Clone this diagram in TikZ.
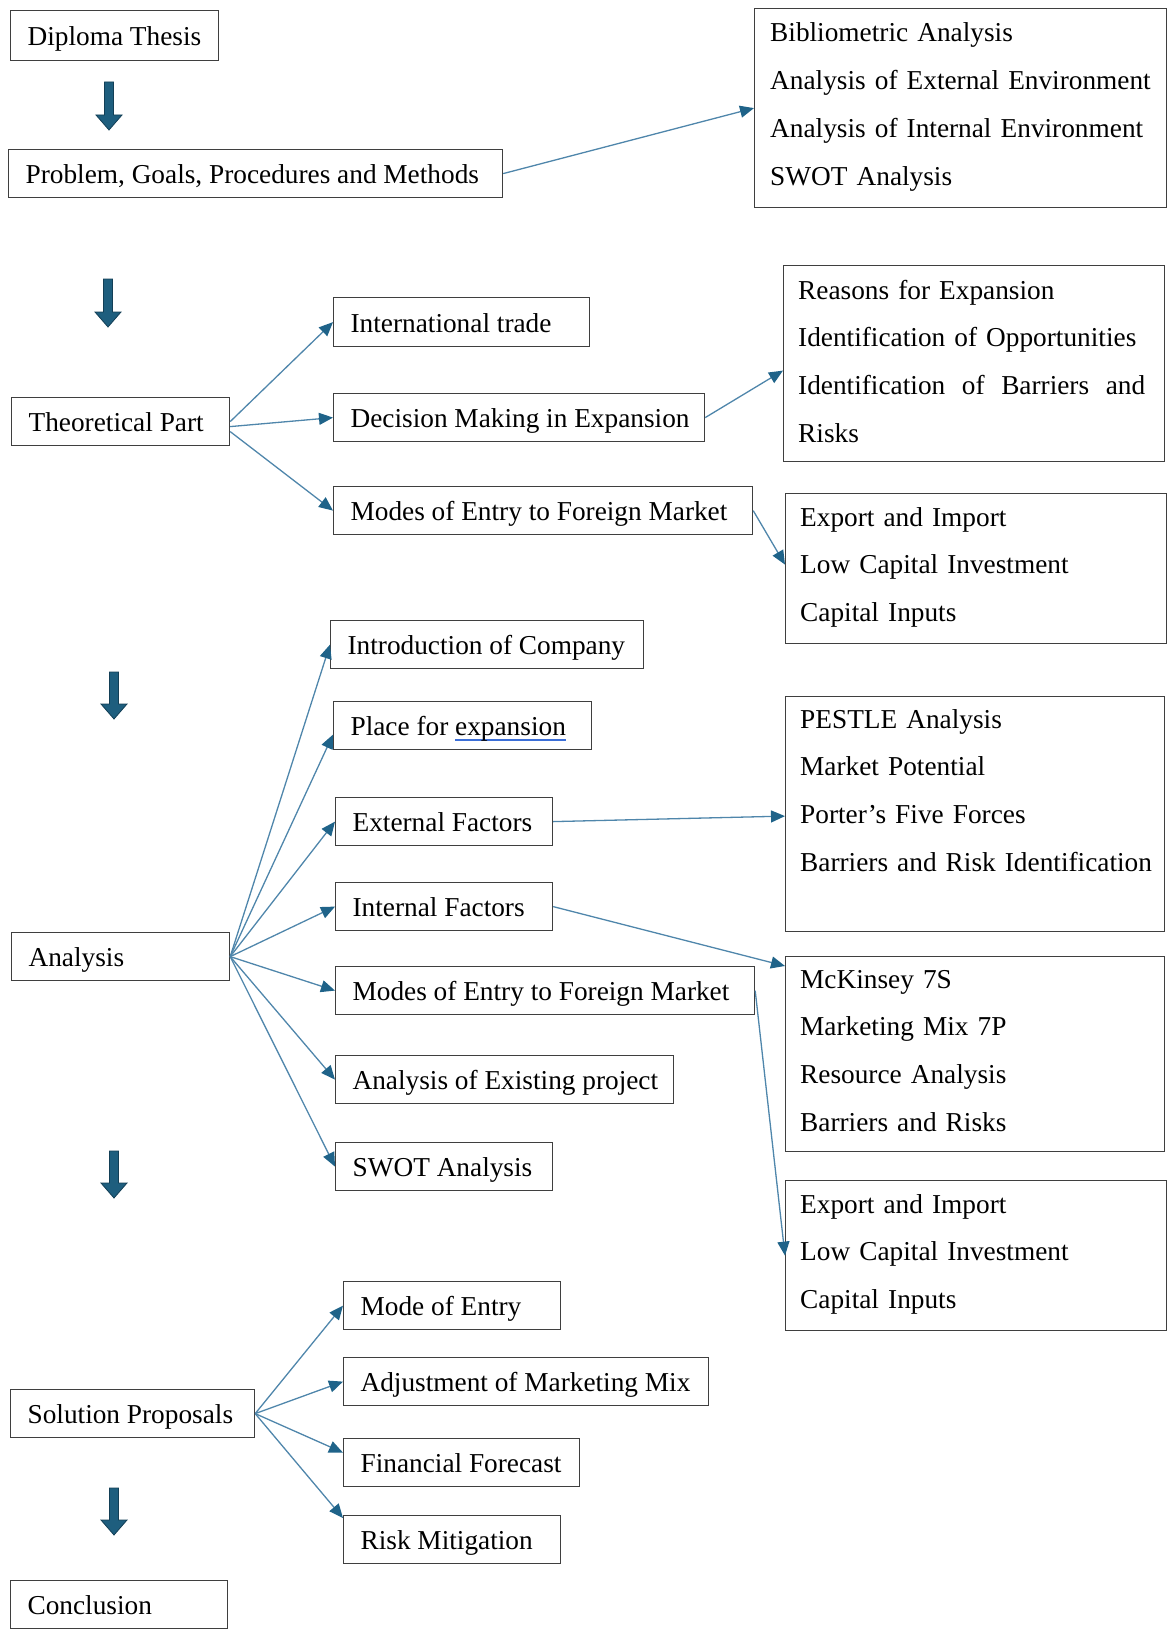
\documentclass[tikz,border=0pt]{standalone}
\usepackage{fontspec}
\setmainfont{Liberation Serif}
\usetikzlibrary{arrows.meta}
\definecolor{boxgray}{HTML}{3F3F3F}
\definecolor{linkblue}{HTML}{4F86AB}
\definecolor{tipblue}{HTML}{1F6389}
\definecolor{fatfill}{HTML}{1E5E7E}
\definecolor{fatdraw}{HTML}{133F56}
\definecolor{ulblue}{HTML}{3C6FD8}
\newcommand\blueul[1]{\leavevmode\setbox0\hbox{#1}\rlap{\color{ulblue}\rule[-5pt]{\wd0}{1.3pt}}\box0}
\newcommand\lbtext[2]{\makebox[#1pt][l]{#2}}
\newcommand\fatarrow[3]{\draw[fatarr] (#1-4.5,#2) -- (#1+4.5,#2) -- (#1+4.5,#3-15) -- (#1+13,#3-15) -- (#1,#3) -- (#1-13,#3-15) -- (#1-4.5,#3-15) -- cycle;}
\begin{document}
\begin{tikzpicture}[x=1pt,y=-1pt]
\tikzset{
  lbox/.style={draw=boxgray, line width=1.2pt, anchor=north west, inner xsep=17pt, inner ysep=0pt,
    text height=22pt, text depth=2pt, minimum height=48pt, font=\fontsize{27.3}{32}\selectfont},
  rbox/.style={draw=boxgray, line width=1.2pt, anchor=north west, inner sep=0pt},
  rtext/.style={anchor=base west, inner sep=0pt, text width=420pt, align=left,
    font=\fontsize{27.3}{47.7}\selectfont},
  link/.style={draw=linkblue, line width=1.3pt, -{Triangle[length=14pt,width=12pt,color=tipblue]}},
  fatarr/.style={fill=fatfill, draw=fatdraw, line width=0.8pt}
}
\useasboundingbox (0,0) rectangle (1167,1629);

% left column
\node[lbox, minimum height=50pt] (dip) at (10,10) {\lbtext{174}{Diploma Thesis}};
\node[lbox] (prob) at (8,149) {\lbtext{460}{Problem, Goals, Procedures and Methods}};
\node[lbox] (theo) at (11,397) {\lbtext{184}{Theoretical Part}};
\node[lbox] (anal) at (11,932) {\lbtext{184}{Analysis}};
\node[lbox] (sol) at (10,1389) {\lbtext{210}{Solution Proposals}};
\node[lbox] (concl) at (10,1580) {\lbtext{183}{Conclusion}};

% middle column
\node[lbox, minimum height=49pt] (intl) at (333,297) {\lbtext{222}{International trade}};
\node[lbox] (dec) at (333,393) {\lbtext{337}{Decision Making in Expansion}};
\node[lbox] (modesT) at (333,486) {\lbtext{385}{Modes of Entry to Foreign Market}};
\node[lbox] (intro) at (330,620) {\lbtext{279}{Introduction of Company}};
\node[lbox] (place) at (333,701) {\lbtext{224}{Place for \blueul{expansion}}};
\node[lbox] (ext) at (335,797) {\lbtext{183}{External Factors}};
\node[lbox] (int) at (335,882) {\lbtext{183}{Internal Factors}};
\node[lbox] (modesA) at (335,966) {\lbtext{385}{Modes of Entry to Foreign Market}};
\node[lbox] (exist) at (335,1055) {\lbtext{304}{Analysis of Existing project}};
\node[lbox] (swot) at (335,1142) {\lbtext{183}{SWOT Analysis}};
\node[lbox] (mode) at (343,1281) {\lbtext{183}{Mode of Entry}};
\node[lbox] (adj) at (343,1357) {\lbtext{331}{Adjustment of Marketing Mix}};
\node[lbox] (fin) at (343,1438) {\lbtext{202}{Financial Forecast}};
\node[lbox] (risk) at (343,1515) {\lbtext{183}{Risk Mitigation}};

% right column boxes
\node[rbox, minimum width=412pt, minimum height=199pt] (bib) at (754,8) {};
\node[rbox, minimum width=381pt, minimum height=196pt] (reas) at (783,265) {};
\node[rbox, minimum width=381pt, minimum height=150pt] (exp1) at (785,493) {};
\node[rbox, minimum width=379pt, minimum height=235pt] (pest) at (785,696) {};
\node[rbox, minimum width=379pt, minimum height=195pt] (mck) at (785,956) {};
\node[rbox, minimum width=381pt, minimum height=150pt] (exp2) at (785,1180) {};

\node[rtext] (bibt) at ([xshift=16pt,yshift=-34pt]bib.north west)
  {Bibliometric Analysis\\Analysis of External Environment\\Analysis of Internal Environment\\SWOT Analysis};
\node[rtext] (reast) at ([xshift=15pt,yshift=-34pt]reas.north west)
  {Reasons for Expansion\\Identification of Opportunities\\\leavevmode\hbox to 347pt{Identification\hfill of\hfill Barriers\hfill and}\\Risks};
\node[rtext] (exp1t) at ([xshift=15pt,yshift=-33pt]exp1.north west)
  {Export and Import\\Low Capital Investment\\Capital Inputs};
\node[rtext] (pestt) at ([xshift=15pt,yshift=-32pt]pest.north west)
  {PESTLE Analysis\\Market Potential\\Porter’s Five Forces\\Barriers and Risk Identification};
\node[rtext] (mckt) at ([xshift=15pt,yshift=-32pt]mck.north west)
  {McKinsey 7S\\Marketing Mix 7P\\Resource Analysis\\Barriers and Risks};
\node[rtext] (exp2t) at ([xshift=15pt,yshift=-33pt]exp2.north west)
  {Export and Import\\Low Capital Investment\\Capital Inputs};

% fat down arrows
\fatarrow{109}{82}{130}
\fatarrow{108}{279}{327}
\fatarrow{114}{672}{719}
\fatarrow{114}{1151}{1198}
\fatarrow{114}{1488}{1535}

% connectors
\draw[link] (prob.east) -- (bib.west);
\draw[link] (theo.east) -- (intl.west);
\draw[link] ([yshift=-5pt]theo.east) -- (dec.west);
\draw[link] ([yshift=-10pt]theo.east) -- (modesT.west);
\draw[link] (dec.east) -- ([yshift=-7pt]reas.west);
\draw[link] (modesT.east) -- ([yshift=4pt]exp1.west);

\foreach \t/\s in {intro/0, place/-9, ext/0, int/0, modesA/0, exist/0, swot/0}
  \draw[link] (anal.east) -- ([yshift=\s pt]\t.west);
\draw[link] (ext.east) -- ([yshift=-2pt]pest.west);
\draw[link] (int.east) -- ([yshift=-10pt]mck.north west);
\draw[link] (modesA.east) -- (exp2.west);

\draw[link] (sol.east) -- (mode.west);
\draw[link] (sol.east) -- (adj.west);
\draw[link] (sol.east) -- ([yshift=10pt]fin.west);
\draw[link] (sol.east) -- ([yshift=-3pt]risk.north west);
\end{tikzpicture}
\end{document}
